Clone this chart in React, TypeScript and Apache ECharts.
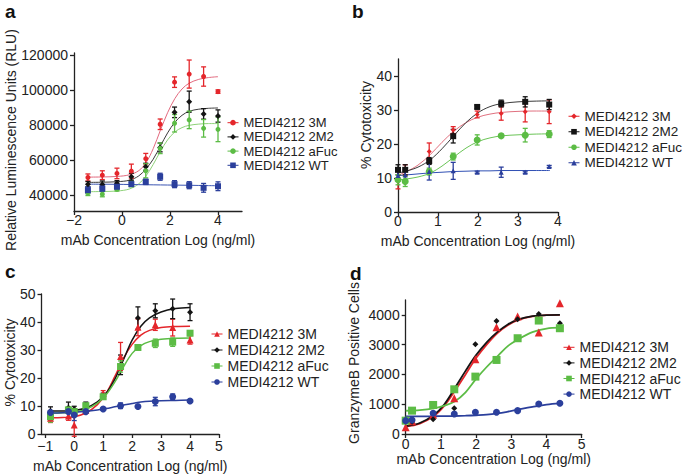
import React, { useEffect, useRef } from 'react';
import * as echarts from 'echarts';

const FONT = '"Liberation Sans", Arial, Helvetica, sans-serif';
const TXT = '#222222';

const seriesNames = ['MEDI4212 3M', 'MEDI4212 2M2', 'MEDI4212 aFuc', 'MEDI4212 WT'];
const markerColors = ['#e4262b', '#141414', '#5cbc45', '#2b3f9c'];

// ---------- Panel a ----------
const xA = [-1.42, -0.82, -0.21, 0.39, 0.99, 1.59, 2.19, 2.8, 3.4, 4.0];
const a3M = [50100, 51400, 52400, 53700, 60800, 80400, 104400, 109000, 107600, 99000];
const a3MErr = [2000, 2500, 3000, 4000, 3000, 3000, 3000, 8000, 5500, 1000];
const a2M2 = [46300, 46100, 46800, 50500, 56200, 67200, 87200, 93300, 86300, 85100];
const a2M2Err = [1500, 2000, 1500, 2000, 2000, 2500, 3000, 6000, 3000, 3500];
const aFuc = [41300, 40600, 43400, 46300, 53900, 66700, 81000, 82900, 78100, 77500];
const aFucErr = [1500, 1500, 1000, 1500, 4000, 3000, 5000, 5000, 5000, 7000];
const aWT = [42900, 43800, 44800, 46300, 47600, 50500, 46300, 45700, 44200, 45100];
const aWTErr = [2000, 1500, 1000, 1000, 1500, 2000, 2000, 2000, 2500, 2500];
const cxA = [-1.42, -0.8, -0.2, 0.3, 0.7, 1.0, 1.3, 1.6, 1.9, 2.2, 2.5, 2.8, 3.2, 3.6, 4.0];
const a3MFit = [50300, 50400, 50700, 51600, 54000, 58500, 66500, 77000, 87000, 95000, 100500, 103800, 106000, 107000, 107500];
const a2M2Fit = [47300, 47400, 47700, 48500, 51000, 55000, 60500, 68000, 75500, 81500, 85500, 87800, 89000, 89500, 89700];
const aFucFit = [42000, 42100, 42400, 43500, 46500, 51000, 57500, 65000, 71500, 76000, 78500, 79800, 80500, 80800, 80800];
const aWTFit = [46300, 46250, 46200, 46100, 46000, 45950, 45900, 45850, 45800, 45750, 45700, 45650, 45550, 45450, 45400];
const xTicksA = [-2, 0, 2, 4];
const yTicksA = [40000, 60000, 80000, 100000, 120000];

// ---------- Panel b ----------
const xB = [0, 0.18, 0.78, 1.38, 1.98, 2.58, 3.18, 3.78];
const b3M = [9.8, 12.4, 17.8, 24.1, 28.7, 29.0, 29.5, 29.5];
const b3MErr = [3, 1.5, 2.5, 1, 1, 2, 3, 3.5];
const b2M2 = [12.4, 12.4, 15.0, 22.3, 30.9, 31.9, 32.4, 31.6];
const b2M2Err = [1.5, 1.5, 1, 2, 0.5, 1, 1.5, 1.5];
const bFuc = [9.5, 9.0, 11.9, 16.3, 21.2, 22.4, 22.6, 22.9];
const bFucErr = [1.5, 1.5, 1, 1, 1.5, 0.5, 2, 1];
const bWT = [10.7, 10.9, 11.9, 12.1, 11.7, 11.7, 11.7, 13.4];
const bWTErr = [1.5, 1.5, 2.5, 2.5, 0.3, 1.5, 0.3, 0.3];
const cxB = [0, 0.2, 0.5, 0.8, 1.1, 1.4, 1.7, 2.0, 2.3, 2.6, 3.0, 3.4, 3.8];
const b3MFit = [10.8, 11.8, 13.8, 16.8, 20.5, 23.8, 26.3, 27.9, 28.8, 29.3, 29.6, 29.7, 29.7];
const b2M2Fit = [11.5, 12.0, 13.2, 15.3, 18.6, 22.5, 26.3, 29.2, 31.0, 31.9, 32.4, 32.6, 32.7];
const bFucFit = [9.4, 9.7, 10.3, 11.4, 13.5, 16.2, 18.8, 20.7, 21.8, 22.4, 22.7, 22.9, 23.0];
const bWTFit = [10.7, 10.9, 11.2, 11.5, 11.7, 11.9, 12.0, 12.1, 12.1, 12.2, 12.2, 12.2, 12.2];
const xTicksB = [0, 1, 2, 3, 4];
const yTicksB = [0, 10, 20, 30, 40];

// ---------- Panel c ----------
const xC = [-0.82, -0.2, 0, 0.4, 1.0, 1.6, 2.2, 2.8, 3.4, 4.0];
const c3M = [5.6, 6.4, 3.2, 8.5, 14.5, 27.7, 38.1, 39.0, 38.0, 33.6];
const c3MErr = [1.5, 1.5, 4, 1, 1, 5, 3, 2, 3, 1.5];
const c2M2 = [8.2, 9.4, 8.9, 10.4, 13.6, 24.7, 41.4, 44.0, 44.7, 43.5];
const c2M2Err = [1.5, 2, 1, 1, 1, 3.5, 4, 2.5, 3.5, 3];
const cFuc = [6.2, 8.6, 8.0, 10.1, 13.3, 24.1, 30.9, 32.4, 32.8, 36.0];
const cFucErr = [2, 1, 1, 0.5, 0.5, 2, 0.5, 1.5, 1.5, 0.5];
const cWT = [7.7, 8.0, 6.8, 8.0, 8.9, 10.1, 9.8, 11.6, 13.3, 11.8];
const cWTErr = [0.5, 0.5, 2, 0.5, 0.3, 1, 0.3, 1.5, 1, 0.3];
const cxC = [-0.82, -0.4, 0, 0.4, 0.8, 1.1, 1.4, 1.7, 2.0, 2.3, 2.6, 3.0, 3.5, 4.0];
const c3MFit = [5.8, 5.9, 6.2, 7.5, 10.5, 14.5, 20.5, 27, 32, 35.3, 37, 38, 38.4, 38.5];
const c2M2Fit = [8.2, 8.2, 8.4, 9.3, 11.5, 14.5, 19.5, 26.5, 33.5, 38.5, 41.5, 43.6, 44.8, 45.2];
const cFucFit = [7.5, 7.6, 7.8, 8.8, 11, 14, 18.5, 24, 28.8, 31.6, 33.0, 33.8, 34.2, 34.3];
const cWTFit = [7.5, 7.6, 7.8, 8.1, 8.6, 9.1, 9.7, 10.3, 10.9, 11.4, 11.7, 11.9, 12.0, 12.1];
const xTicksC = [-1, 0, 1, 2, 3, 4, 5];
const yTicksC = [0, 10, 20, 30, 40, 50];

// ---------- Panel d ----------
const xD = [0, 0.18, 0.78, 1.38, 1.98, 2.58, 3.18, 3.78, 4.38];
const d3M = [224, 430, 650, 1199, 2510, 3585, 3944, 3406, 4392];
const d2M2 = [415, 415, 493, 863, 3014, 3798, 3854, 4034, 3720];
const dFuc = [448, 784, 975, 1501, 1927, 2487, 3216, 3810, 3552];
const dWT = [448, 470, 695, 672, 728, 728, 784, 1008, 1031];
const cxD = [0, 0.4, 0.8, 1.1, 1.4, 1.7, 2.0, 2.3, 2.6, 2.9, 3.2, 3.6, 4.0, 4.38];
const d3MFit = [250, 350, 600, 950, 1450, 2000, 2550, 3000, 3380, 3650, 3830, 3950, 3990, 4000];
const d2M2Fit = [260, 370, 640, 1000, 1550, 2120, 2650, 3080, 3420, 3680, 3850, 3960, 3995, 4000];
const dFucFit = [780, 800, 860, 950, 1100, 1400, 1850, 2250, 2600, 2950, 3180, 3420, 3540, 3570];
const dWTFit = [590, 592, 596, 600, 605, 615, 630, 650, 690, 750, 820, 910, 990, 1030];
const xTicksD = [0, 1, 2, 3, 4, 5];
const yTicksD = [0, 1000, 2000, 3000, 4000];

const xName = 'mAb Concentration Log (ng/ml)';

type Panel = {
  key: string;
  grid: { left: number; top: number; width: number; height: number };
  xMin: number; xMax: number; xTicks: number[]; xGap: number; xMargin: number;
  yMin: number; yMax: number; yTicks: number[];
  yName: string; yNamePos: [number, number];
  xs: number[]; ys: number[][]; errs: number[][] | null;
  cx: number[]; cy: number[][];
  curveColors: string[]; symbols: string[]; sizes: number[]; lw: number;
  legend: { left: number; top: number; lh: number; fs: number };
};

const panels: Panel[] = [
  {
    key: 'a', grid: { left: 74, top: 53, width: 168, height: 158 },
    xMin: -2, xMax: 5, xTicks: xTicksA, xGap: 22, xMargin: 2,
    yMin: 31000, yMax: 121000, yTicks: yTicksA,
    yName: 'Relative Luminescence Units (RLU)', yNamePos: [11, 140],
    xs: xA, ys: [a3M, a2M2, aFuc, aWT], errs: [a3MErr, a2M2Err, aFucErr, aWTErr],
    cx: cxA, cy: [a3MFit, a2M2Fit, aFucFit, aWTFit],
    curveColors: ['#e3697e', '#3a3a3a', '#8fd27a', '#3b55b3'],
    symbols: ['circle', 'diamond', 'circle', 'rect'], sizes: [5, 6, 5, 6], lw: 1,
    legend: { left: 227, top: 115.6, lh: 14.2, fs: 13 },
  },
  {
    key: 'b', grid: { left: 398, top: 59, width: 160, height: 153 },
    xMin: 0, xMax: 4, xTicks: xTicksB, xGap: 22, xMargin: 2,
    yMin: 0, yMax: 45, yTicks: yTicksB,
    yName: '% Cytotoxicity', yNamePos: [366, 125],
    xs: xB, ys: [b3M, b2M2, bFuc, bWT], errs: [b3MErr, b2M2Err, bFucErr, bWTErr],
    cx: cxB, cy: [b3MFit, b2M2Fit, bFucFit, bWTFit],
    curveColors: ['#e0707f', '#3a3a3a', '#6ac456', '#3050b4'],
    symbols: ['diamond', 'rect', 'circle', 'triangle'], sizes: [5, 6, 7, 5], lw: 1,
    legend: { left: 568, top: 108.5, lh: 15.5, fs: 13.5 },
  },
  {
    key: 'c', grid: { left: 41.5, top: 294, width: 177.5, height: 140 },
    xMin: -1.13, xMax: 5, xTicks: xTicksC, xGap: 25, xMargin: 5,
    yMin: 0, yMax: 50, yTicks: yTicksC,
    yName: '% Cytotoxicity', yNamePos: [10, 362.5],
    xs: xC, ys: [c3M, c2M2, cFuc, cWT], errs: [c3MErr, c2M2Err, cFucErr, cWTErr],
    cx: cxC, cy: [c3MFit, c2M2Fit, cFucFit, cWTFit],
    curveColors: markerColors,
    symbols: ['triangle', 'diamond', 'rect', 'circle'], sizes: [7, 6, 7, 7], lw: 1.5,
    legend: { left: 211, top: 326, lh: 16, fs: 14 },
  },
  {
    key: 'd', grid: { left: 405.7, top: 300, width: 176, height: 134 },
    xMin: 0, xMax: 5, xTicks: xTicksD, xGap: 17, xMargin: 3,
    yMin: 0, yMax: 4500, yTicks: yTicksD,
    yName: 'GranzymeB Positive Cells', yNamePos: [354, 363],
    xs: xD, ys: [d3M, d2M2, dFuc, dWT], errs: null,
    cx: cxD, cy: [d3MFit, d2M2Fit, dFucFit, dWTFit],
    curveColors: markerColors,
    symbols: ['triangle', 'diamond', 'rect', 'circle'], sizes: [8, 6, 8, 7], lw: 1.8,
    legend: { left: 563, top: 339.5, lh: 15.6, fs: 14 },
  },
];

const fmt = (v: number) => (v < 0 ? '\u2212' + Math.abs(v) : String(v));

const axisCommon = (ticks: number[], margin: number) => ({
  type: 'value' as const,
  axisLine: { show: true, onZero: false, lineStyle: { color: TXT, width: 1.3 } },
  axisTick: { show: true, length: 4, customValues: ticks, lineStyle: { color: TXT, width: 1.3 } },
  axisLabel: { customValues: ticks, fontSize: 14, color: TXT, fontFamily: FONT, margin, formatter: fmt },
  splitLine: { show: false },
  nameLocation: 'middle' as const,
});

function buildOption() {
  const grid: any[] = [];
  const xAxis: any[] = [];
  const yAxis: any[] = [];
  const series: any[] = [];
  const legend: any[] = [];
  const graphic: any[] = [];

  panels.forEach((p, gi) => {
    grid.push({ ...p.grid, containLabel: false });
    xAxis.push({
      ...axisCommon(p.xTicks, p.xMargin), gridIndex: gi, min: p.xMin, max: p.xMax,
      name: xName, nameGap: p.xGap,
      nameTextStyle: { fontSize: 14, color: TXT, fontFamily: FONT },
    });
    yAxis.push({
      ...axisCommon(p.yTicks, 6), gridIndex: gi, min: p.yMin, max: p.yMax,
    });
    graphic.push({
      type: 'text', x: p.yNamePos[0], y: p.yNamePos[1], rotation: Math.PI / 2,
      style: { text: p.yName, font: '14px ' + FONT, fill: TXT, align: 'center', verticalAlign: 'middle' },
    });
    const legendData: any[] = [];
    seriesNames.forEach((nm, k) => {
      const full = p.key + ':' + nm;
      legendData.push({ name: full, itemStyle: { color: markerColors[k] }, lineStyle: { color: markerColors[k], width: 1 } });
      series.push({
        type: 'line', name: full, xAxisIndex: gi, yAxisIndex: gi,
        data: p.cx.map((x, i) => [x, p.cy[k][i]]),
        smooth: 0.35, showSymbol: false,
        symbol: p.symbols[k], symbolSize: p.sizes[k],
        lineStyle: { color: p.curveColors[k], width: p.lw },
        itemStyle: { color: markerColors[k] },
        z: 2, silent: true,
      });
      if (p.errs) {
        const e = p.errs[k];
        const col = markerColors[k];
        series.push({
          type: 'custom', name: full + ' err', xAxisIndex: gi, yAxisIndex: gi, z: 3, silent: true,
          data: p.xs.map((x, i) => [x, p.ys[k][i] - e[i], p.ys[k][i] + e[i]]),
          encode: { x: 0, y: [1, 2] },
          renderItem: (_params: any, api: any) => {
            const x = api.value(0);
            const lo = api.coord([x, api.value(1)]);
            const hi = api.coord([x, api.value(2)]);
            const w = 2.5;
            const st = { stroke: col, lineWidth: 1.3 };
            return {
              type: 'group',
              children: [
                { type: 'line', shape: { x1: lo[0], y1: lo[1], x2: hi[0], y2: hi[1] }, style: st },
                { type: 'line', shape: { x1: lo[0] - w, y1: lo[1], x2: lo[0] + w, y2: lo[1] }, style: st },
                { type: 'line', shape: { x1: hi[0] - w, y1: hi[1], x2: hi[0] + w, y2: hi[1] }, style: st },
              ],
            };
          },
        });
      }
      series.push({
        type: 'scatter', name: full + ' pts', xAxisIndex: gi, yAxisIndex: gi,
        data: p.xs.map((x, i) => [x, p.ys[k][i]]),
        symbol: p.symbols[k], symbolSize: p.sizes[k],
        itemStyle: { color: markerColors[k], opacity: 1 },
        z: 4, silent: true,
      });
    });
    legend.push({
      orient: 'vertical', left: p.legend.left, top: p.legend.top, padding: 0,
      itemWidth: 11, itemHeight: 7, itemGap: 0, selectedMode: false,
      textStyle: { fontSize: p.legend.fs, color: TXT, fontFamily: FONT, lineHeight: p.legend.lh },
      formatter: (n: string) => n.split(':')[1],
      data: legendData,
    });
  });

  const letters = [
    { t: 'a', x: 5, y: 11.5 },
    { t: 'b', x: 352, y: 11.5 },
    { t: 'c', x: 5, y: 271.5 },
    { t: 'd', x: 350, y: 273.5 },
  ];
  letters.forEach((l) => {
    graphic.push({
      type: 'text', x: l.x, y: l.y,
      style: { text: l.t, font: 'bold 19px ' + FONT, fill: '#111', verticalAlign: 'middle', align: 'left' },
    });
  });

  return {
    animation: false,
    backgroundColor: '#ffffff',
    textStyle: { fontFamily: FONT },
    grid, xAxis, yAxis, series, legend, graphic,
  };
}

export default function App() {
  const ref = useRef<HTMLDivElement>(null);
  useEffect(() => {
    const chart = echarts.init(ref.current!, null, { renderer: 'svg' });
    chart.setOption(buildOption() as any);
    return () => chart.dispose();
  }, []);
  return (
    <div
      ref={ref}
      style={{ position: 'absolute', left: 0, top: 0, width: 685, height: 474, background: '#fff' }}
    />
  );
}
